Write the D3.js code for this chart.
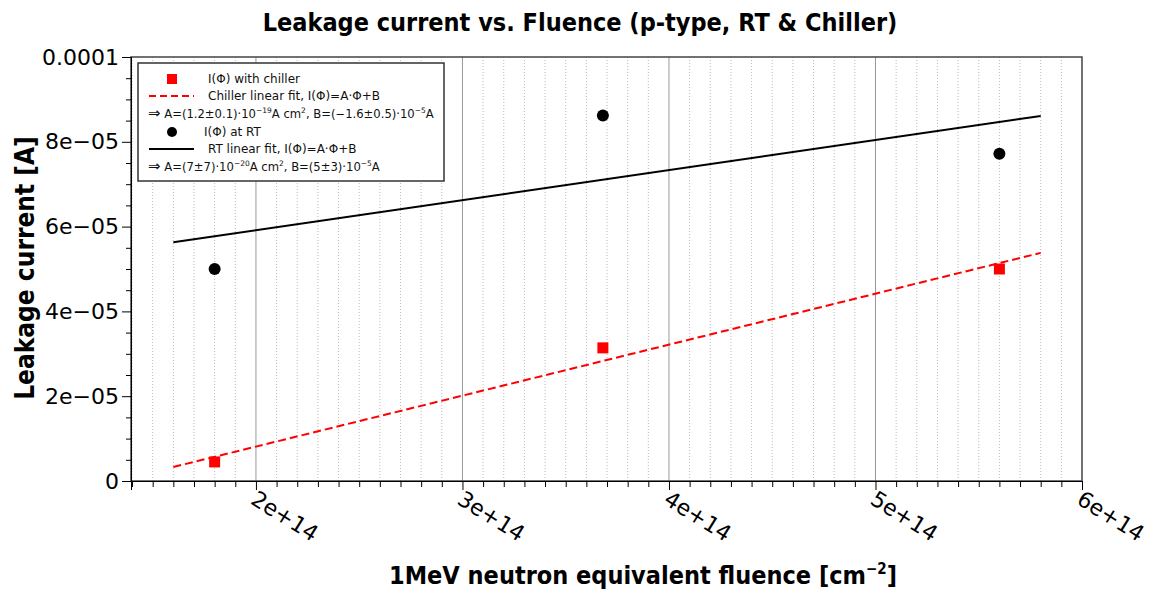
<!DOCTYPE html>
<html><head><meta charset="utf-8">
<script src="https://cdn.jsdelivr.net/npm/d3@7"></script>
<style>body{margin:0;background:#fff}svg{display:block}text{font-family:"DejaVu Sans",sans-serif}.cond{font-family:"DejaVu Sans Condensed","DejaVu Sans",sans-serif;font-stretch:condensed}</style>
</head><body>
<svg id="c" width="1159" height="589"></svg>
<script>
// Data
const chillerFluence = [1.8e14, 3.68e14, 5.6e14];
const chillerCurrent = [4.5e-6, 3.14e-5, 5.0e-5];
const rtFluence = [1.8e14, 3.68e14, 5.6e14];
const rtCurrent = [5.0e-5, 8.62e-5, 7.72e-5];
const chillerFit = [[1.6e14, 3.3e-6], [5.8e14, 5.38e-5]];
const rtFit = [[1.6e14, 5.63e-5], [5.8e14, 8.61e-5]];
const xTicks = [2e14, 3e14, 4e14, 5e14, 6e14];
const xTickLabels = ["2e+14", "3e+14", "4e+14", "5e+14", "6e+14"];
const yTicks = [0, 2e-5, 4e-5, 6e-5, 8e-5, 1e-4];
const yTickLabels = ["0", "2e\u221205", "4e\u221205", "6e\u221205", "8e\u221205", "0.0001"];
const legendLabels = ["I(\u03A6) with chiller", "Chiller linear fit, I(\u03A6)=A\u00B7\u03A6+B",
  "A=(1.2\u00B10.1)\u00B710", "I(\u03A6) at RT", "RT linear fit, I(\u03A6)=A\u00B7\u03A6+B", "A=(7\u00B17)\u00B710"];

const svg = d3.select("#c");
const L = 131, R = 1082, T = 57, B = 481;
const x = d3.scaleLinear().domain([1.395e14, 6e14]).range([L, R]);
const y = d3.scaleLinear().domain([0, 1e-4]).range([B, T]);

// minor vertical grid (dotted)
const minorX = d3.range(14, 61).map(d => d * 1e13).filter(d => d % 1e14 !== 0 && d < 6e14);
svg.append("g").selectAll("line").data(minorX).join("line")
  .attr("x1", d => x(d)).attr("x2", d => x(d)).attr("y1", T).attr("y2", B)
  .attr("stroke", "#bbb").attr("stroke-width", 1).attr("stroke-dasharray", "1,2");
// major vertical grid
svg.append("g").selectAll("line").data(xTicks.slice(0, 4)).join("line")
  .attr("x1", d => x(d)).attr("x2", d => x(d)).attr("y1", T).attr("y2", B)
  .attr("stroke", "#999").attr("stroke-width", 1);

// frame
svg.append("rect").attr("x", L).attr("y", T).attr("width", R - L).attr("height", B - T)
  .attr("fill", "none").attr("stroke", "#444").attr("stroke-width", 1.5);

// x axis
const xAxis = d3.axisBottom(x).tickValues(xTicks).tickSize(9).tickFormat((d, i) => xTickLabels[i]);
const gx = svg.append("g").attr("transform", `translate(0,${B})`).call(xAxis);
gx.select(".domain").attr("stroke", "#000");
gx.selectAll(".tick line").attr("stroke", "#000");
gx.selectAll(".tick text").attr("font-size", 22).attr("fill", "#000")
  .attr("text-anchor", "start").attr("dy", 0).attr("y", 0)
  .attr("transform", "translate(-7,22) rotate(32)");
svg.append("g").attr("transform", `translate(0,${B})`)
  .call(d3.axisBottom(x).tickValues(minorX).tickSize(6).tickFormat(""))
  .call(g => g.select(".domain").remove())
  .selectAll("line").attr("stroke", "#000");

// y axis
const yAxis = d3.axisLeft(y).tickValues(yTicks).tickSize(9).tickFormat((d, i) => yTickLabels[i]);
const gy = svg.append("g").attr("transform", `translate(${L},0)`).call(yAxis);
gy.select(".domain").attr("stroke", "#000");
gy.selectAll(".tick line").attr("stroke", "#000");
gy.selectAll(".tick text").attr("font-size", 22).attr("fill", "#000").attr("x", -12);
const minorY = d3.range(1, 20).map(d => d * 5e-6).filter((d, i) => (i + 1) % 4 !== 0);
svg.append("g").attr("transform", `translate(${L},0)`)
  .call(d3.axisLeft(y).tickValues(minorY).tickSize(5).tickFormat(""))
  .call(g => g.select(".domain").remove())
  .selectAll("line").attr("stroke", "#000");

// fit lines
const line = d3.line().x(d => x(d[0])).y(d => y(d[1]));
svg.append("path").attr("d", line(rtFit)).attr("stroke", "#000").attr("stroke-width", 2).attr("fill", "none");
svg.append("path").attr("d", line(chillerFit)).attr("stroke", "#f00").attr("stroke-width", 2)
  .attr("fill", "none").attr("stroke-dasharray", "8,4");

// points
svg.append("g").selectAll("rect").data(chillerFluence).join("rect")
  .attr("x", (d, i) => x(d) - 5.5).attr("y", (d, i) => y(chillerCurrent[i]) - 5.5)
  .attr("width", 11).attr("height", 11).attr("fill", "#f00");
svg.append("g").selectAll("circle").data(rtFluence).join("circle")
  .attr("cx", d => x(d)).attr("cy", (d, i) => y(rtCurrent[i])).attr("r", 6).attr("fill", "#000");

// legend
const lg = svg.append("g");
lg.append("rect").attr("x", 138).attr("y", 63).attr("width", 306).attr("height", 118)
  .attr("fill", "#fff").attr("stroke", "#333").attr("stroke-width", 1.5);
const rows = [79, 96, 114, 132, 149, 167];
lg.append("rect").attr("x", 167).attr("y", rows[0] - 5).attr("width", 10).attr("height", 10).attr("fill", "#f00");
lg.append("line").attr("x1", 149).attr("x2", 194).attr("y1", rows[1]).attr("y2", rows[1])
  .attr("stroke", "#f00").attr("stroke-width", 2).attr("stroke-dasharray", "7,4");
lg.append("circle").attr("cx", 172).attr("cy", rows[3]).attr("r", 5).attr("fill", "#000");
lg.append("line").attr("x1", 149).attr("x2", 194).attr("y1", rows[4]).attr("y2", rows[4])
  .attr("stroke", "#000").attr("stroke-width", 2);
const fs = 12;
function lt(xx, yy, s) { return lg.append("text").attr("x", xx).attr("y", yy + 4).attr("font-size", fs).attr("fill", "#111").text(s); }
lt(208, rows[0], legendLabels[0]);
lt(208, rows[1], legendLabels[1]);
function formula(yy, lead, e1, b, e2) {
  const t = lg.append("text").attr("x", 148).attr("y", yy + 4).attr("font-size", 11.6).attr("fill", "#111");
  t.append("tspan").attr("font-size", 15).text("\u21D2");
  t.append("tspan").text(" " + lead);
  t.append("tspan").attr("dy", -5).attr("font-size", 7.5).text(e1);
  t.append("tspan").attr("dy", 5).text("A cm");
  t.append("tspan").attr("dy", -5).attr("font-size", 7.5).text("2");
  t.append("tspan").attr("dy", 5).text(b);
  t.append("tspan").attr("dy", -5).attr("font-size", 7.5).text("\u22125");
  t.append("tspan").attr("dy", 5).text("A");
}
formula(rows[2], legendLabels[2], "\u221219", ", B=(\u22121.6\u00B10.5)\u00B710");
lt(204, rows[3], legendLabels[3]);
lt(208, rows[4], legendLabels[4]);
formula(rows[5], legendLabels[5], "\u221220", ", B=(5\u00B13)\u00B710");

// titles
svg.append("text").attr("class", "cond").attr("x", 580).attr("y", 31).attr("text-anchor", "middle")
  .attr("font-size", 25).attr("font-weight", "bold").attr("fill", "#000")
  .text("Leakage current vs. Fluence (p-type, RT & Chiller)");
svg.append("text").attr("class", "cond").attr("transform", "translate(34,268) rotate(-90)").attr("text-anchor", "middle")
  .attr("font-size", 26).attr("font-weight", "bold").attr("fill", "#000").text("Leakage current [A]");
const xt = svg.append("text").attr("class", "cond").attr("x", 643).attr("y", 584).attr("text-anchor", "middle")
  .attr("font-size", 25).attr("font-weight", "bold").attr("fill", "#000").text("1MeV neutron equivalent fluence [cm");
xt.append("tspan").attr("dy", -10).attr("font-size", 15).text("\u22122");
xt.append("tspan").attr("dy", 10).text("]");
</script>
</body></html>
